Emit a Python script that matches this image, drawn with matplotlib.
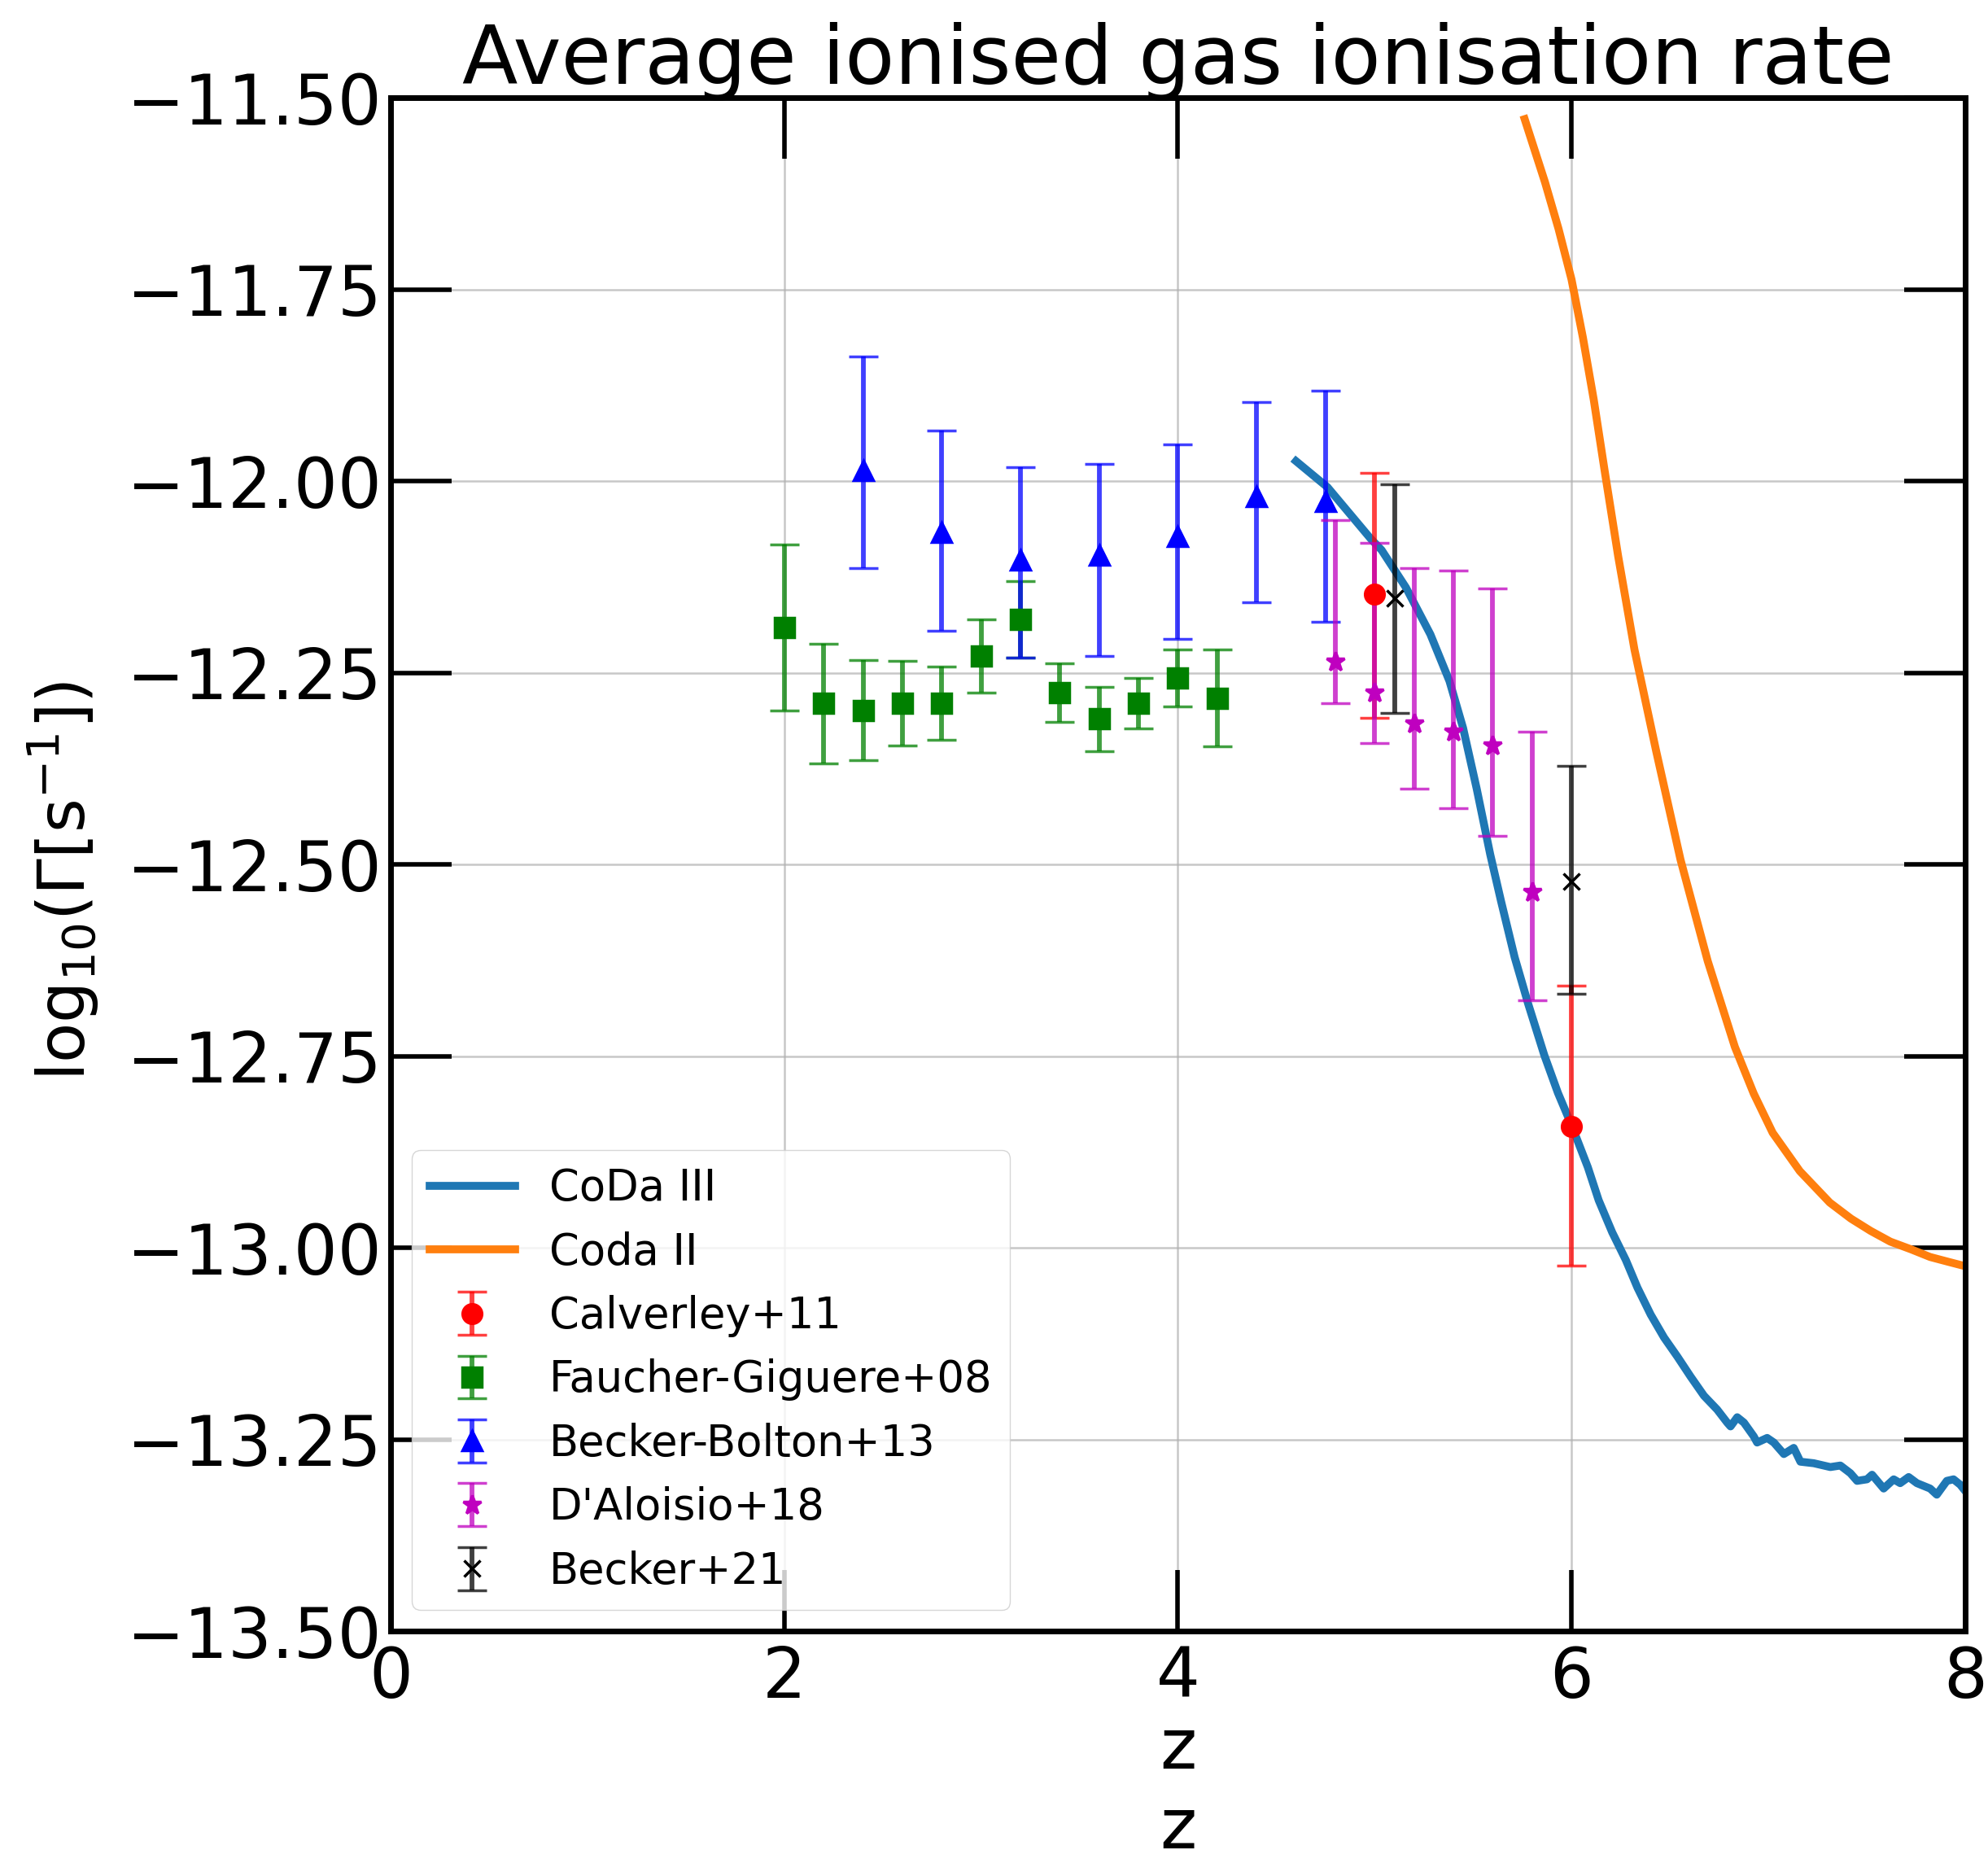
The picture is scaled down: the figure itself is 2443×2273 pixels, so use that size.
import numpy as np
import matplotlib
matplotlib.use("Agg")
import matplotlib.pyplot as plt

OUT_PNG = "out.png"

# simulations: mean photoionisation rate of the ionised gas, log10(Gamma / s^-1)
coda3_z = [4.600, 4.760, 4.979, 5.035, 5.159, 5.283, 5.380, 5.449, 5.518, 5.587,
           5.642, 5.711, 5.780, 5.862, 5.931, 6.000, 6.083, 6.138, 6.207, 6.276,
           6.335, 6.402, 6.470, 6.538, 6.605, 6.673, 6.740, 6.791, 6.808, 6.842,
           6.876, 6.926, 6.943, 6.994, 7.028, 7.079, 7.129, 7.163, 7.231, 7.315,
           7.366, 7.417, 7.451, 7.501, 7.527, 7.586, 7.637, 7.670, 7.713, 7.755,
           7.822, 7.856, 7.907, 7.941, 7.975, 8.000]
coda3_gamma = [-11.974, -12.008, -12.075, -12.090, -12.139, -12.200, -12.261, -12.322, -12.401, -12.487,
               -12.548, -12.621, -12.682, -12.749, -12.798, -12.840, -12.895, -12.938, -12.980, -13.016,
               -13.052, -13.087, -13.117, -13.142, -13.168, -13.193, -13.211, -13.228, -13.233, -13.221,
               -13.228, -13.246, -13.254, -13.248, -13.254, -13.269, -13.261, -13.279, -13.281, -13.286,
               -13.284, -13.294, -13.304, -13.302, -13.296, -13.314, -13.302, -13.307, -13.299, -13.307,
               -13.314, -13.322, -13.304, -13.302, -13.309, -13.317]

coda2_z = [5.762, 5.865, 5.934, 6.000, 6.058, 6.113, 6.168, 6.237, 6.320, 6.430,
           6.554, 6.692, 6.830, 6.926, 7.022, 7.160, 7.312, 7.420, 7.520, 7.620,
           7.725, 7.822, 7.910, 8.000]
coda2_gamma = [-11.528, -11.610, -11.671, -11.737, -11.813, -11.894, -11.986, -12.098, -12.220, -12.352,
               -12.494, -12.626, -12.738, -12.799, -12.850, -12.900, -12.941, -12.962, -12.978, -12.992,
               -13.002, -13.012, -13.018, -13.024]

# observations: redshift, log10 Gamma, lower / upper error
calv_z = [5.0, 6.0]
calv_g = [-12.147, -12.842]
calv_lo = [0.162, 0.181]
calv_hi = [0.158, 0.184]

fg_z = [2.0, 2.2, 2.4, 2.6, 2.8, 3.0, 3.2, 3.4, 3.6, 3.8, 4.0, 4.2]
fg_g = [-12.191, -12.290, -12.299, -12.290, -12.290, -12.228, -12.180, -12.276, -12.310, -12.290, -12.257, -12.283]
fg_err = [0.108, 0.078, 0.065, 0.055, 0.048, 0.048, 0.050, 0.038, 0.042, 0.033, 0.037, 0.063]

bb_z = [2.4, 2.8, 3.2, 3.6, 4.0, 4.4, 4.75]
bb_g = [-11.986, -12.067, -12.103, -12.097, -12.072, -12.020, -12.026]
bb_lo = [0.128, 0.128, 0.127, 0.131, 0.134, 0.138, 0.158]
bb_hi = [0.148, 0.133, 0.121, 0.119, 0.120, 0.123, 0.144]

da_z = [4.8, 5.0, 5.2, 5.4, 5.6, 5.8]
da_g = [-12.236, -12.276, -12.316, -12.327, -12.345, -12.536]
da_lo = [0.054, 0.066, 0.085, 0.100, 0.118, 0.141]
da_hi = [0.185, 0.195, 0.202, 0.210, 0.205, 0.209]

b21_z = [5.1, 6.0]
b21_g = [-12.153, -12.522]
b21_lo = [0.149, 0.147]
b21_hi = [0.149, 0.151]

Y_TICKS = np.arange(-13.5, -11.49, 0.25)


def _obs(ax, z, g, lo, hi, fmt, color, label, ms=17):
    cont = ax.errorbar(z, g, yerr=[lo, hi], fmt=fmt, color=color, label=label,
                       ms=ms, mew=2.5, elinewidth=4.2, capsize=13, capthick=3)
    for cap in cont[1]:
        cap.set_alpha(0.75)
    for bar in cont[2]:
        bar.set_alpha(0.75)
    return cont


def plot_gamma(out_png=OUT_PNG):
    fig = plt.figure(figsize=(24.43, 22.73), dpi=100)
    ax = fig.add_axes([0.1965, 0.1183, 0.792, 0.8289])

    ax.plot(coda3_z, coda3_gamma, color="tab:blue", lw=7, label="CoDa III")
    ax.plot(coda2_z, coda2_gamma, color="tab:orange", lw=7, label="Coda II")

    _obs(ax, calv_z, calv_g, calv_lo, calv_hi, "o", "r", "Calverley+11")
    _obs(ax, fg_z, fg_g, fg_err, fg_err, "s", "g", "Faucher-Giguere+08")
    _obs(ax, bb_z, bb_g, bb_lo, bb_hi, "^", "b", "Becker-Bolton+13")
    _obs(ax, da_z, da_g, da_lo, da_hi, "*", "m", "D'Aloisio+18")
    _obs(ax, b21_z, b21_g, b21_lo, b21_hi, "x", "k", "Becker+21", ms=15)

    ax.set_xlim(0, 8)
    ax.set_ylim(-13.5, -11.5)
    ax.set_xticks(np.arange(0, 9, 2))
    ax.set_yticks(Y_TICKS)
    ax.set_yticklabels([f"\u2212{abs(v):.2f}" for v in Y_TICKS])

    ax.grid(True, color="#b0b0b0", lw=1.8, alpha=0.7)
    ax.tick_params(which="major", direction="in", length=54, width=4,
                   top=True, right=True, labelsize=61, pad=8)
    ax.tick_params(axis="x", pad=12)
    for sp in ax.spines.values():
        sp.set_linewidth(5)

    ax.set_title("Average ionised gas ionisation rate", fontsize=72, pad=12)
    ax.set_xlabel("z", fontsize=62, labelpad=3)
    ax.set_ylabel(r"log$_{10}$($\Gamma$[s$^{-1}$])", fontsize=58, va="center")
    ax.yaxis.set_label_coords(-0.208, 0.489)
    ax.text(0.5, -0.129, "z", transform=ax.transAxes, fontsize=62,
            ha="center", va="center")

    ax.legend(loc="lower left", fontsize=38)

    fig.savefig(out_png, dpi=100)
    plt.close(fig)


if __name__ == "__main__":
    plot_gamma()
